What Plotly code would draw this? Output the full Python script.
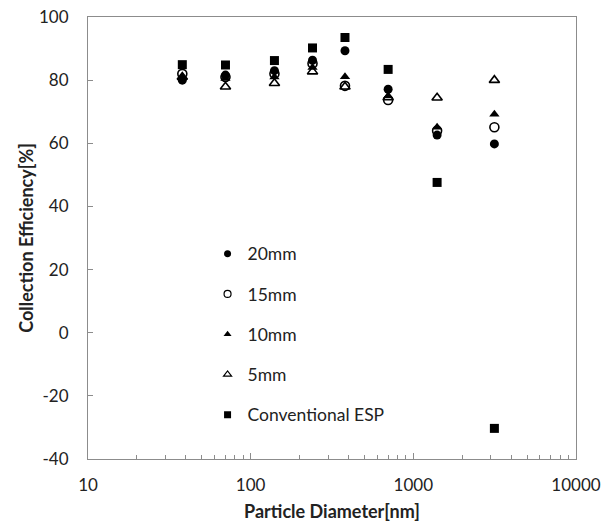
import plotly.graph_objects as go

diameter_nm = [38, 70, 140, 240, 380, 700, 1400, 3150]
eff_20mm = [80.0, 81.6, 83.0, 86.3, 89.3, 77.1, 62.6, 59.8]
eff_15mm = [82.0, 81.0, 82.0, 85.3, 78.2, 73.7, 64.0, 65.1]
eff_10mm = [81.0, 80.5, 81.0, 84.0, 81.1, 75.0, 65.1, 69.2]
eff_5mm = [81.0, 77.9, 79.0, 82.7, 77.9, 74.5, 74.4, 80.0]
eff_esp = [84.9, 84.8, 86.2, 90.2, 93.5, 83.4, 47.6, -30.3]

y_ticks = [-40, -20, 0, 20, 40, 60, 80, 100]
y_tick_labels = ["-40", "-20", "0", "20", "40", "60", "80", "100"]
x_ticks = [10, 100, 1000, 10000]
x_tick_labels = ["10", "100", "1000", "10000"]

series = [
    ("20mm", eff_20mm, "circle"),
    ("15mm", eff_15mm, "circle-open"),
    ("10mm", eff_10mm, "triangle-up"),
    ("5mm", eff_5mm, "triangle-up-open"),
    ("Conventional ESP", eff_esp, "square"),
]

fig = go.Figure()
for i, (name, vals, sym) in enumerate(series):
    lw = 1.6 if "open" in sym else 0
    fig.add_trace(go.Scatter(
        x=diameter_nm, y=vals, mode="markers", name=name, showlegend=False,
        marker=dict(symbol=sym, size=9, color="black", line=dict(color="black", width=lw)),
    ))
    # legend entry with smaller symbol
    fig.add_trace(go.Scatter(
        x=[None], y=[None], mode="markers", name=name, legendgroup=f"g{i}",
        marker=dict(symbol=sym, size=7, color="black", line=dict(color="black", width=1.2 if lw else 0)),
    ))

minor_vals = [m * 10 ** k for k in range(1, 4) for m in range(2, 10)]

font = "Lato, 'Open Sans', sans-serif"
axis_common = dict(
    showline=True, linecolor="#8c8c8c", linewidth=1, mirror=True,
    showgrid=False, zeroline=False, ticks="inside", tickcolor="#8c8c8c",
    tickfont=dict(family=font, size=17, color="#222"), automargin=False,
    ticklabeloverflow="allow",
)
fig.update_layout(
    width=610, height=522,
    margin=dict(l=88, r=34, t=17, b=63),
    paper_bgcolor="white", plot_bgcolor="white",
    showlegend=True,
    legend=dict(x=0.245, y=0.505, xanchor="left", yanchor="top",
                font=dict(family=font, size=17.5, color="#222"),
                tracegroupgap=14.5, bgcolor="rgba(0,0,0,0)", itemwidth=30),
    xaxis=dict(type="log", range=[1, 4], tickvals=x_ticks, ticktext=x_tick_labels,
               minor=dict(ticks="inside", ticklen=4, tickcolor="#8c8c8c", showgrid=False,
                          tickvals=minor_vals),
               ticklen=6, ticklabelstandoff=11,
               title=dict(text="<b>Particle Diameter[nm]</b>",
                          font=dict(family=font, size=18, color="#222"), standoff=11),
               **axis_common),
    yaxis=dict(range=[-40, 100], tickvals=y_ticks, ticktext=y_tick_labels, ticklen=5,
               ticklabelstandoff=15,
               title=dict(text="<b>Collection Efficiency[%]</b>",
                          font=dict(family=font, size=18, color="#222"), standoff=0),
               **axis_common),
)
fig.write_html("out.html", config={"displayModeBar": False},
               post_script="document.body.style.margin='0';document.body.style.overflow='hidden';")
